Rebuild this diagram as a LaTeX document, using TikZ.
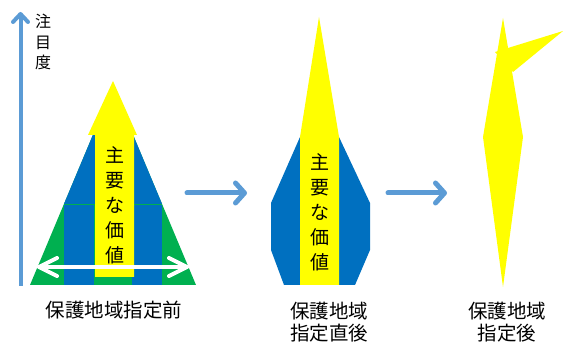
\documentclass[tikz,border=0pt]{standalone}
\usepackage{fontspec}
\setmainfont{Noto Sans CJK JP}
\usetikzlibrary{arrows.meta}
\definecolor{cgreen}{HTML}{00B050}
\definecolor{cblue}{HTML}{0070C0}
\definecolor{cyellow}{HTML}{FFFF00}
\definecolor{caxis}{HTML}{5B9BD5}
\tikzset{
  flowarrow/.style={draw=caxis,line width=5pt,line cap=round,
    -{Straight Barb[length=9pt,width=20pt,round]}},
  axisarrow/.style={draw=caxis,line width=4pt,
    -{Straight Barb[length=8pt,width=15pt,round]}},
  widthline/.style={draw=white,line width=4pt,line cap=round,line join=round},
  vtext/.style={align=center,font=\fontsize{19}{25}\selectfont,inner sep=0pt},
  label/.style={align=center,font=\fontsize{19.5}{22}\selectfont,inner sep=0pt},
}
\begin{document}
\begin{tikzpicture}[x=1pt,y=-1pt]
\useasboundingbox (0,0) rectangle (563,344);
% axis
\coordinate (axb) at (20.5,286);
\coordinate (axt) at (20.5,12);
\draw[axisarrow] (axb) -- (axt);
\node[align=center,font=\fontsize{16}{20.5}\selectfont,inner sep=0pt] (attn) at (43,42) {注\\目\\度};
% stage 1
\fill[cgreen] (30,285) -- (196,285) -- (113,87) -- cycle;
\begin{scope}
\clip (30,285) -- (196,285) -- (113,87) -- cycle;
\fill[cblue] (0,80) rectangle (200,204);
\end{scope}
\fill[cblue] (64,204) rectangle (94,285);
\fill[cblue] (132,204) rectangle (162,285);
\draw[cgreen,line width=0.8pt] (64,204) -- (162,204);
\fill[cyellow] (95,277) -- (95,135) -- (88,135) -- (113,81) -- (137,135) -- (134,135) -- (134,277) -- cycle;
\node[vtext] (v1) at (114.5,205) {主\\要\\な\\価\\値};
\coordinate (wl) at (39,267);
\coordinate (wr) at (187,267);
\draw[widthline] (wl) -- (wr);
\draw[widthline] (wl) ++(18,-9) -- (wl) -- ++(18,9);
\draw[widthline] (wr) ++(-18,-9) -- (wr) -- ++(-18,9);
\node[label] (l1) at (114,310) {保護地域指定前};
% arrow 1
\coordinate (a1s) at (187,193);
\coordinate (a1e) at (247,193);
\draw[flowarrow] (a1s) -- (a1e);
% stage 2
\fill[cblue] (300,137) -- (271,203) -- (271,250) -- (284,285) -- (355,285) -- (370,250) -- (370,203) -- (339,137) -- cycle;
\fill[cyellow] (300,285) -- (300,137) -- (319,17) -- (339,137) -- (339,285) -- cycle;
\node[vtext] (v2) at (319.5,212) {主\\要\\な\\価\\値};
\node[label] (l2) at (329,322) {保護地域\\指定直後};
% arrow 2
\coordinate (a2s) at (388,193);
\coordinate (a2e) at (447,193);
\draw[flowarrow] (a2s) -- (a2e);
% stage 3
\fill[cyellow] (503,18) -- (483,137) -- (503,287) -- (523,137) -- cycle;
\fill[cyellow] (495,52) -- (563,31) -- (513,72) -- cycle;
\node[label] (l3) at (507,322) {保護地域\\指定後};
\end{tikzpicture}
\end{document}
